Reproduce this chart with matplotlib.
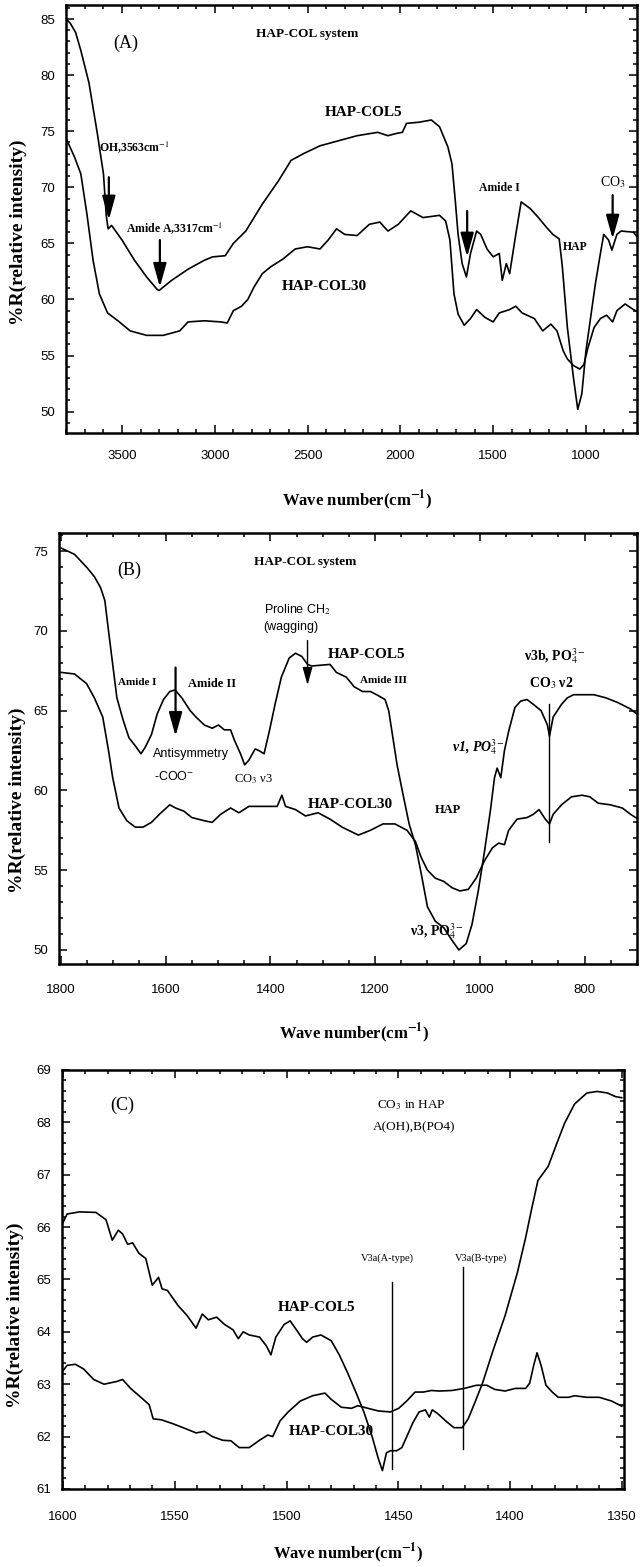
import matplotlib
matplotlib.use('Agg')
import matplotlib.pyplot as plt
from matplotlib.ticker import MultipleLocator

plt.rcParams['font.family'] = ['Liberation Sans', 'DejaVu Sans']
plt.rcParams['mathtext.fontset'] = 'stix'

SERIF = ['Liberation Serif', 'DejaVu Serif']

# ---- panel A : full range spectra (wave number, %R) ----
a_col5_x = [3800, 3778, 3750, 3722, 3678, 3633, 3600, 3585, 3575, 3556, 3500, 3433, 3367, 3311,
            3300, 3233, 3144, 3056, 3011, 2944, 2900, 2833, 2744, 2656, 2589, 2522, 2433, 2322,
            2233, 2122, 2067, 2022, 1989, 1967, 1900, 1833, 1789, 1744, 1722, 1704, 1689, 1667,
            1644, 1622, 1589, 1567, 1533, 1500, 1467, 1451, 1429, 1411, 1378, 1349, 1300, 1256,
            1211, 1178, 1144, 1127, 1100, 1067, 1044, 1022, 1000, 967, 949, 922, 904, 878, 860,
            833, 811, 744, 711, 689]
a_col5_y = [85.0, 84.6, 83.8, 82.2, 79.3, 74.8, 71.2, 67.5, 66.3, 66.6, 65.3, 63.5, 62.0, 60.9,
            60.8, 61.7, 62.7, 63.5, 63.8, 63.9, 65.0, 66.1, 68.5, 70.6, 72.4, 73.0, 73.7, 74.2,
            74.6, 74.9, 74.6, 74.8, 74.9, 75.7, 75.8, 76.0, 75.4, 73.6, 72.1, 68.8, 65.8, 63.2,
            62.0, 64.1, 66.1, 65.8, 64.5, 63.8, 64.1, 61.7, 63.2, 62.3, 65.8, 68.7, 68.1, 67.3,
            66.4, 65.8, 65.4, 62.9, 57.5, 53.0, 50.2, 51.6, 55.4, 59.3, 61.4, 64.1, 65.8, 65.3, 64.4,
            65.8, 66.1, 66.0, 65.3, 64.7]

a_col30_x = [3800, 3756, 3722, 3689, 3656, 3622, 3578, 3522, 3456, 3367, 3278, 3189, 3144, 3056,
             2967, 2933, 2900, 2856, 2822, 2789, 2744, 2700, 2633, 2567, 2500, 2433, 2389, 2344,
             2300, 2233, 2167, 2111, 2067, 2011, 1944, 1878, 1789, 1756, 1733, 1711, 1689, 1656,
             1622, 1589, 1544, 1500, 1467, 1411, 1378, 1344, 1278, 1233, 1189, 1156, 1122, 1100,
             1067, 1033, 1011, 989, 956, 922, 889, 856, 833, 789, 744, 711, 689]
a_col30_y = [74.3, 72.7, 71.2, 67.6, 63.5, 60.5, 58.8, 58.1, 57.2, 56.8, 56.8, 57.2, 58.0, 58.1,
             58.0, 57.9, 59.0, 59.4, 60.0, 61.1, 62.3, 62.9, 63.6, 64.5, 64.7, 64.5, 65.3, 66.3,
             65.8, 65.7, 66.7, 66.9, 66.1, 66.7, 67.9, 67.3, 67.5, 67.0, 65.3, 60.5, 58.7, 57.7,
             58.3, 59.1, 58.4, 58.0, 58.8, 59.1, 59.4, 58.8, 58.3, 57.2, 57.8, 57.2, 55.4, 54.7,
             54.1, 53.8, 54.2, 55.7, 57.5, 58.3, 58.6, 58.0, 59.0, 59.6, 59.1, 58.8, 58.1]

# ---- panel B : 1800-700 region ----
b_col5_x = [1800, 1774, 1751, 1736, 1724, 1716, 1709, 1701, 1693, 1681, 1670, 1658, 1647, 1639,
            1627, 1616, 1604, 1592, 1582, 1569, 1553, 1542, 1526, 1511, 1499, 1488, 1476, 1468,
            1457, 1449, 1441, 1429, 1422, 1412, 1402, 1391, 1379, 1364, 1352, 1340, 1329, 1321,
            1286, 1274, 1255, 1240, 1224, 1209, 1197, 1181, 1174, 1166, 1158, 1147, 1135, 1123,
            1112, 1100, 1085, 1069, 1053, 1040, 1026, 1015, 1003, 991, 980, 972, 967, 960, 953,
            945, 933, 922, 910, 898, 883, 871, 867, 860, 844, 833, 821, 782, 759, 736, 712, 693]
b_col5_y = [75.2, 74.8, 74.0, 73.4, 72.7, 71.9, 70.0, 67.9, 65.8, 64.4, 63.3, 62.8, 62.3, 62.7,
            63.5, 64.8, 65.7, 66.2, 66.3, 65.8, 65.0, 64.6, 64.1, 63.9, 64.1, 63.8, 63.8, 63.1,
            62.3, 61.6, 61.9, 62.6, 62.5, 62.3, 63.7, 65.4, 67.1, 68.3, 68.6, 68.4, 67.9, 67.8,
            67.9, 67.4, 67.1, 66.5, 66.2, 66.2, 66.0, 65.7, 65.0, 63.3, 61.6, 59.8, 57.9, 56.6,
            54.8, 52.7, 51.8, 51.4, 50.6, 50.0, 50.4, 51.6, 53.7, 56.2, 58.7, 60.8, 61.4, 60.8, 62.5,
            63.7, 65.2, 65.6, 65.7, 65.4, 65.0, 64.1, 63.4, 64.6, 65.4, 65.8, 66.0, 66.0, 65.8,
            65.5, 65.1, 64.6]

b_col30_x = [1800, 1774, 1751, 1736, 1720, 1709, 1701, 1689, 1674, 1658, 1643, 1627, 1612, 1592,
             1581, 1565, 1550, 1526, 1511, 1495, 1476, 1460, 1441, 1410, 1387, 1378, 1371, 1352,
             1333, 1309, 1286, 1263, 1232, 1209, 1185, 1162, 1139, 1123, 1112, 1100, 1085, 1069,
             1053, 1038, 1022, 1007, 991, 976, 964, 953, 945, 929, 910, 898, 887, 875, 867, 860,
             844, 825, 805, 790, 774, 751, 728, 712, 693]
b_col30_y = [67.4, 67.3, 66.7, 65.8, 64.6, 62.5, 60.8, 58.9, 58.1, 57.7, 57.7, 58.0, 58.5, 59.1,
             58.9, 58.7, 58.3, 58.1, 58.0, 58.5, 58.9, 58.6, 59.0, 59.0, 59.0, 59.7, 59.0, 58.8,
             58.4, 58.6, 58.2, 57.7, 57.2, 57.5, 57.9, 57.9, 57.5, 56.8, 55.8, 55.0, 54.5, 54.3,
             53.9, 53.7, 53.8, 54.5, 55.6, 56.4, 56.7, 56.6, 57.5, 58.2, 58.3, 58.5, 58.8, 58.2,
             57.9, 58.5, 59.1, 59.6, 59.7, 59.6, 59.2, 59.1, 58.9, 58.5, 58.1]

# ---- panel C : CO3 region ----
c_col5_x = [1600, 1598.2, 1592.7, 1585.3, 1580.8, 1578.0, 1575.3, 1573.4, 1571.1, 1568.9, 1566.1,
            1563.0, 1560.1, 1557.3, 1555.7, 1553.3, 1548.7, 1544.5, 1540.5, 1537.7, 1535.0,
            1531.3, 1527.7, 1524.0, 1521.6, 1519.4, 1516.7, 1512.1, 1509.0, 1507.0, 1504.8,
            1501.1, 1498.4, 1495.6, 1492.9, 1491.0, 1488.3, 1484.6, 1480.0, 1476.4, 1472.7,
            1469.0, 1465.4, 1461.7, 1459.0, 1457.1, 1455.3, 1453.5, 1450.7, 1448.4, 1446.2,
            1443.4, 1440.7, 1437.9, 1436.1, 1434.8, 1432.4, 1428.8, 1425.1, 1421.4, 1418.7,
            1416.1, 1412.3, 1407.7, 1402.2, 1396.7, 1393.0, 1390.3, 1387.5, 1382.9, 1379.3,
            1375.6, 1371.1, 1365.6, 1361.0, 1356.4, 1352.7, 1350.0]
c_col5_y = [66.09, 66.25, 66.29, 66.28, 66.14, 65.75, 65.94, 65.87, 65.67, 65.70, 65.50,
            65.40, 64.89, 65.04, 64.82, 64.79, 64.51, 64.31, 64.07, 64.34, 64.23,
            64.28, 64.14, 64.04, 63.87, 64.00, 63.94, 63.90, 63.73, 63.56, 63.90,
            64.14, 64.21, 64.04, 63.87, 63.80, 63.90, 63.94, 63.83, 63.56, 63.22,
            62.85, 62.47, 62.00, 61.59, 61.35, 61.69, 61.73, 61.73, 61.79, 62.00,
            62.27, 62.47, 62.51, 62.37, 62.51, 62.44, 62.30, 62.17, 62.17, 62.34,
            62.61, 63.02, 63.63, 64.31, 65.13, 65.80, 66.35, 66.89, 67.16, 67.57,
            67.98, 68.35, 68.56, 68.59, 68.56, 68.49, 68.47]

c_col30_x = [1600, 1598.2, 1594.5, 1590.8, 1586.3, 1581.7, 1576.2, 1573.4, 1569.8, 1565.2,
             1561.5, 1559.7, 1556.0, 1550.5, 1545.1, 1540.5, 1536.8, 1533.2, 1528.6, 1524.9,
             1521.2, 1516.7, 1512.1, 1508.4, 1506.2, 1502.9, 1499.3, 1493.8, 1488.3, 1482.8,
             1480.0, 1475.5, 1470.9, 1468.1, 1463.6, 1459.0, 1453.5, 1449.8, 1446.2, 1442.5,
             1438.8, 1435.2, 1431.5, 1426.0, 1420.5, 1415.0, 1410.4, 1406.8, 1402.2, 1397.6,
             1393.0, 1391.2, 1389.4, 1387.9, 1386.1, 1383.9, 1381.1, 1378.4, 1373.8, 1371.1,
             1365.6, 1360.1, 1354.6, 1350.0]
c_col30_y = [63.26, 63.36, 63.38, 63.29, 63.09, 63.00, 63.05, 63.09, 62.92, 62.75,
             62.61, 62.34, 62.32, 62.24, 62.15, 62.07, 62.10, 62.00, 61.93, 61.92,
             61.79, 61.79, 61.93, 62.03, 62.00, 62.30, 62.47, 62.68, 62.78, 62.83,
             62.71, 62.56, 62.54, 62.59, 62.54, 62.49, 62.47, 62.54, 62.68, 62.85,
             62.85, 62.88, 62.87, 62.88, 62.92, 62.98, 62.98, 62.90, 62.87, 62.92,
             62.92, 63.02, 63.36, 63.60, 63.36, 62.98, 62.85, 62.75, 62.75, 62.78,
             62.75, 62.75, 62.68, 62.58]

XLABEL = r'Wave number(cm$^{\mathbf{-1}}$)'
YLABEL = '%R(relative intensity)'

fig = plt.figure(figsize=(6.43, 15.67), dpi=100)
axA = fig.add_axes([0.1026, 0.7237, 0.888, 0.2731])
axB = fig.add_axes([0.0922, 0.3846, 0.8984, 0.2754])
axC = fig.add_axes([0.0964, 0.0498, 0.874, 0.2674])


def style(ax, xmaj, xmin, ymaj, ymin, pad, ylab, xlab):
    for s in ax.spines.values():
        s.set_linewidth(1.8)
    ax.xaxis.set_major_locator(MultipleLocator(xmaj))
    ax.xaxis.set_minor_locator(MultipleLocator(xmin))
    ax.yaxis.set_major_locator(MultipleLocator(ymaj))
    ax.yaxis.set_minor_locator(MultipleLocator(ymin))
    ax.tick_params(which='both', direction='in', top=True, right=True, width=1.1)
    ax.tick_params(which='major', length=6)
    ax.tick_params(which='minor', length=3)
    ax.tick_params(axis='x', pad=pad, labelsize=9.5)
    ax.tick_params(axis='y', pad=8, labelsize=9.5)
    ax.set_ylabel(YLABEL, family=SERIF, weight='bold', fontsize=14)
    ax.set_xlabel(XLABEL, family=SERIF, weight='bold', fontsize=12)
    ax.yaxis.set_label_coords(*ylab)
    ax.xaxis.set_label_coords(*xlab)


def arrow(ax, x, y0, y1, lw=1.6, ms=16):
    ax.annotate('', xy=(x, y1), xytext=(x, y0),
                arrowprops=dict(arrowstyle='-|>,head_width=0.25,head_length=0.9',
                                color='k', lw=lw, mutation_scale=ms, shrinkA=0, shrinkB=0))


def txt(ax, x, y, s, size=9, bold=True, serif=True, style='normal'):
    ax.text(x, y, s, ha='center', va='center', fontsize=size,
            weight='bold' if bold else 'normal', style=style,
            family=SERIF if serif else ['Liberation Sans', 'DejaVu Sans'])


# ---------------- A ----------------
axA.plot(a_col5_x, a_col5_y, color='k', lw=1.2)
axA.plot(a_col30_x, a_col30_y, color='k', lw=1.2)
axA.set_xlim(3802, 725)
axA.set_ylim(48.1, 86.25)
style(axA, 500, 100, 5, 1, 12, (-0.068, 0.47), (0.51, -0.128))
txt(axA, 3478, 82.8, '(A)', size=13, bold=False)
txt(axA, 2500, 83.7, 'HAP-COL system', size=9.5)
txt(axA, 2200, 76.7, 'HAP-COL5', size=11)
txt(axA, 2411, 61.2, 'HAP-COL30', size=11)
axA.text(3625, 73.6, r'OH,3563cm$^{-1}$', ha='left', va='center', fontsize=8.5,
         weight='bold', family=SERIF)
arrow(axA, 3571, 70.9, 67.1)
axA.text(3480, 66.4, r'Amide A,3317cm$^{-1}$', ha='left', va='center', fontsize=8.5,
         weight='bold', family=SERIF)
arrow(axA, 3296, 65.3, 61.1)
txt(axA, 1467, 69.9, 'Amide I', size=8.5)
arrow(axA, 1640, 67.9, 63.8)
txt(axA, 1056, 64.7, 'HAP', size=8.5)
txt(axA, 856, 70.5, r'CO$_3$', size=10, bold=False)
arrow(axA, 856, 69.3, 65.4)

# ---------------- B ----------------
axB.plot(b_col5_x, b_col5_y, color='k', lw=1.2)
axB.plot(b_col30_x, b_col30_y, color='k', lw=1.2)
axB.set_xlim(1803, 700)
axB.set_ylim(49.1, 76.15)
style(axB, 200, 50, 5, 1, 14, (-0.057, 0.38), (0.51, -0.132))
txt(axB, 1670, 73.8, '(B)', size=13, bold=False)
txt(axB, 1333, 74.3, 'HAP-COL system', size=9.5)
txt(axB, 1348, 71.35, r'Proline CH$_2$', size=9, bold=False, serif=False)
txt(axB, 1360, 70.24, '(wagging)', size=9, bold=False, serif=False)
arrow(axB, 1329, 69.4, 66.6, lw=1.0, ms=12)
txt(axB, 1216, 68.5, 'HAP-COL5', size=11)
txt(axB, 1654, 66.76, 'Amide I', size=8)
txt(axB, 1511, 66.65, 'Amide II', size=9)
arrow(axB, 1581, 67.7, 63.4)
txt(axB, 1185, 66.9, 'Amide III', size=8)
txt(axB, 1551, 62.27, 'Antisymmetry', size=9, bold=False, serif=False)
txt(axB, 1584, 60.85, r'-COO$^{-}$', size=9, bold=False, serif=False)
txt(axB, 1432, 60.7, r'CO$_3$ ν3', size=9, bold=False)
txt(axB, 1247, 59.14, 'HAP-COL30', size=11)
txt(axB, 1060, 58.76, 'HAP', size=9)
txt(axB, 856, 68.4, r'ν3b, PO$_4^{3-}$', size=10)
txt(axB, 864, 66.7, r'CO$_3$ ν2', size=10)
axB.plot([867, 867], [65.4, 56.74], color='k', lw=1.0)
txt(axB, 1003, 62.7, r'ν1, PO$_4^{3-}$', size=10, style='italic')
txt(axB, 1081, 51.2, r'ν3, PO$_4^{3-}$', size=10)

# ---------------- C ----------------
axC.plot(c_col5_x, c_col5_y, color='k', lw=1.2)
axC.plot(c_col30_x, c_col30_y, color='k', lw=1.2)
axC.set_xlim(1600.5, 1349)
axC.set_ylim(61, 69)
style(axC, 50, 10, 1, 0.2, 16, (-0.068, 0.415), (0.51, -0.125))
txt(axC, 1573.4, 68.32, '(C)', size=13, bold=False)
txt(axC, 1444, 68.32, r'CO$_3$ in HAP', size=9.5, bold=False)
txt(axC, 1443, 67.91, 'A(OH),B(PO4)', size=9.5, bold=False)
txt(axC, 1455, 65.4, 'V3a(A-type)', size=7.5, bold=False)
txt(axC, 1413, 65.4, 'V3a(B-type)', size=7.5, bold=False)
axC.plot([1453, 1453], [64.96, 61.39], color='k', lw=1.0)
axC.plot([1421, 1421], [65.23, 61.76], color='k', lw=1.0)
txt(axC, 1486.4, 64.46, 'HAP-COL5', size=11)
txt(axC, 1480, 62.09, 'HAP-COL30', size=11)

fig.savefig('out.png', dpi=100)
